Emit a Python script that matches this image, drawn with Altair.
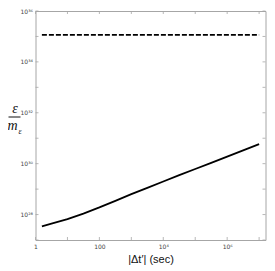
import altair as alt
import pandas as pd

# (log10 values)
t_exp = [0.2, 0.5, 1.0, 1.5, 2.0, 2.5, 3.0, 3.5, 4.0, 4.5, 5.0, 5.5, 6.0, 6.5, 7.0]
eps_exp = [27.54, 27.64, 27.82, 28.04, 28.28, 28.54, 28.80, 29.05, 29.30, 29.55,
           29.79, 30.03, 30.28, 30.52, 30.77]
limit_exp = 35.06
x_tick_exp = [0, 1, 2, 3, 4, 5, 6, 7]
y_tick_exp = [27, 28, 29, 30, 31, 32, 33, 34, 35, 36]
x_label_vals = [1, 100, 1e4, 1e6]
y_label_vals = [1e28, 1e30, 1e32, 1e34, 1e36]

W, H = 230, 229
GRAY = "#a6a6a6"

curve = pd.DataFrame({"t": [10 ** e for e in t_exp], "eps": [10 ** e for e in eps_exp]})
limit = pd.DataFrame({"t": [10 ** t_exp[0], 10 ** t_exp[-1]], "eps": [10 ** limit_exp] * 2})
xt = pd.DataFrame({"t": [10 ** e for e in x_tick_exp]})
yt = pd.DataFrame({"eps": [10 ** e for e in y_tick_exp]})

xscale = alt.Scale(type="log", domain=[1, 10 ** 7.2], nice=False)
yscale = alt.Scale(type="log", domain=[1e27, 1e36], nice=False)

xlab = ("datum.value < 2 ? '1' : datum.value < 200 ? '100' : "
        "datum.value < 2e4 ? '10\u2074' : '10\u2076'")
ylab = ("'10' + (datum.value < 1e29 ? '\u00b2\u2078' : datum.value < 1e31 ? '\u00b3\u2070' : "
        "datum.value < 1e33 ? '\u00b3\u00b2' : datum.value < 1e35 ? '\u00b3\u2074' : '\u00b3\u2076')")

x_enc = alt.X("t:Q", scale=xscale,
              axis=alt.Axis(values=x_label_vals, labelExpr=xlab, tickSize=0, domain=False,
                            grid=False, labelFont="DejaVu Sans", labelFontSize=6,
                            labelColor="#444", labelPadding=3, labelFlush=False,
                            title="|\u0394t\u2032| (sec)", titleFont="Liberation Sans",
                            titleFontSize=11, titleFontWeight="normal", titleColor="#111",
                            titlePadding=4))
y_enc = alt.Y("eps:Q", scale=yscale,
              axis=alt.Axis(values=y_label_vals, labelExpr=ylab, tickSize=0, domain=False,
                            grid=False, labelFont="DejaVu Sans", labelFontSize=6,
                            labelColor="#444", labelPadding=3, labelFlush=False, title=None))

line = alt.Chart(curve).mark_line(color="black", strokeWidth=1.8).encode(x=x_enc, y=y_enc)
dash = alt.Chart(limit).mark_line(color="black", strokeWidth=1.6,
                                  strokeDash=[5, 2]).encode(x="t:Q", y="eps:Q")

tk = dict(color=GRAY, strokeWidth=0.8)
bt = alt.Chart(xt).mark_rule(**tk).encode(x="t:Q", y=alt.value(H), y2=alt.value(H - 3))
tt = alt.Chart(xt).mark_rule(**tk).encode(x="t:Q", y=alt.value(0), y2=alt.value(3))
lt = alt.Chart(yt).mark_rule(**tk).encode(y="eps:Q", x=alt.value(0), x2=alt.value(3))
rt = alt.Chart(yt).mark_rule(**tk).encode(y="eps:Q", x=alt.value(W), x2=alt.value(W - 3))

lab = pd.DataFrame({"k": [0]})
fnt = dict(font="Liberation Serif", fontStyle="italic", color="#111")
num = alt.Chart(lab).mark_text(text="\u03b5", fontSize=14, align="center", baseline="alphabetic",
                               **fnt).encode(x=alt.value(-20.5), y=alt.value(102))
bar = alt.Chart(lab).mark_rule(color="#111", strokeWidth=1).encode(
    x=alt.value(-27), x2=alt.value(-15), y=alt.value(106))
den = alt.Chart(lab).mark_text(text="m", fontSize=14, align="center", baseline="alphabetic",
                               **fnt).encode(x=alt.value(-23), y=alt.value(119))
sub = alt.Chart(lab).mark_text(text="\u03b5", fontSize=8, align="center", baseline="alphabetic",
                               **fnt).encode(x=alt.value(-15.5), y=alt.value(123))

chart = alt.layer(line, dash, bt, tt, lt, rt, num, bar, den, sub).properties(
    width=W, height=H,
    autosize=alt.AutoSizeParams(type="none"),
    padding={"left": 27.5, "top": 3, "right": 1.5, "bottom": 29},
).configure_view(stroke=GRAY, strokeWidth=1)

chart.save("out.html", embed_options={"renderer": "svg", "actions": False})
